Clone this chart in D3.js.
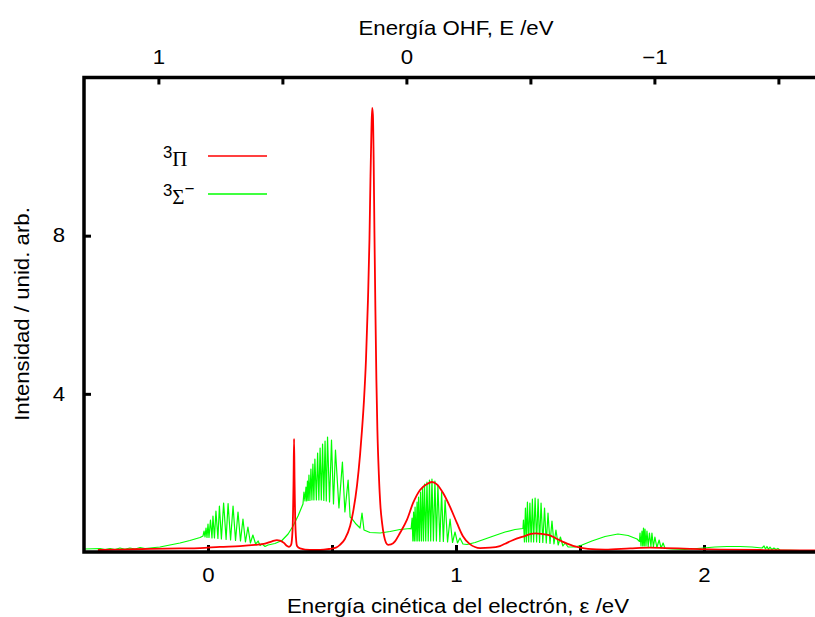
<!DOCTYPE html>
<html>
<head>
<meta charset="utf-8">
<script src="https://cdn.jsdelivr.net/npm/d3@7"></script>
<style>
  html, body { margin: 0; padding: 0; background: #fff; }
  svg { display: block; }
  text { font-family: "Liberation Sans", Arial, Helvetica, sans-serif; fill: #000; }
</style>
</head>
<body>
<svg id="chart" width="815" height="617"></svg>
<script>
// Photoelectron spectrum: intensity vs. electron kinetic energy for two states.
// Each series is a list of [epsilon (eV), intensity (arb. units)] samples.

const tripletPi = [
  [-0.444,0.05],[-0.355,0.06],[-0.234,0.08],[-0.113,0.09],[-0.032,0.10],[0.048,0.13],[0.129,0.15],
  [0.190,0.18],[0.230,0.21],[0.258,0.27],[0.278,0.30],[0.290,0.29],[0.306,0.23],[0.319,0.15],
  [0.327,0.13],[0.335,0.18],[0.341,0.56],[0.345,1.82],[0.347,2.86],[0.349,1.82],[0.353,0.56],
  [0.359,0.15],[0.371,0.09],[0.411,0.05],[0.452,0.05],[0.492,0.08],[0.516,0.11],[0.532,0.18],
  [0.552,0.33],[0.573,0.66],[0.585,1.01],[0.601,1.69],[0.613,2.45],[0.621,3.09],[0.629,3.84],
  [0.637,4.86],[0.645,6.37],[0.651,7.89],[0.655,9.41],[0.659,10.67],[0.662,11.23],[0.665,11.05],
  [0.668,9.91],[0.671,8.14],[0.675,6.12],[0.679,4.35],[0.683,3.09],[0.689,1.95],[0.695,1.19],
  [0.702,0.73],[0.710,0.40],[0.718,0.23],[0.726,0.18],[0.738,0.19],[0.754,0.27],[0.774,0.48],
  [0.802,0.81],[0.827,1.24],[0.855,1.57],[0.883,1.72],[0.903,1.77],[0.923,1.71],[0.948,1.49],
  [0.976,1.14],[1.004,0.73],[1.028,0.40],[1.056,0.20],[1.097,0.10],[1.137,0.11],[1.177,0.15],
  [1.198,0.21],[1.226,0.29],[1.266,0.38],[1.319,0.47],[1.371,0.43],[1.427,0.27],[1.480,0.14],
  [1.532,0.08],[1.601,0.06],[1.702,0.09],[1.782,0.11],[1.843,0.10],[1.944,0.08],[2.065,0.06],
  [2.226,0.05],[2.5,0.04]
];

const tripletSigma = [
  // low-energy tail
  [-0.496,0.076],[-0.435,0.089],[-0.415,0.063],[-0.395,0.089],[-0.375,0.063],[-0.355,0.101],
  [-0.335,0.070],[-0.315,0.101],[-0.294,0.076],[-0.274,0.114],[-0.254,0.089],[-0.194,0.126],
  [-0.113,0.228],[-0.073,0.291],[-0.032,0.367],[-0.020,0.405],
  // first vibrational band
  [-0.016,0.531],[-0.012,0.379],[-0.008,0.607],[-0.004,0.367],[0.000,0.708],[0.004,0.367],
  [0.010,0.809],[0.016,0.354],[0.020,0.910],[0.026,0.354],[0.032,1.037],[0.040,0.341],
  [0.046,1.163],[0.054,0.329],[0.063,1.239],[0.073,0.316],[0.081,1.227],[0.091,0.303],
  [0.101,1.163],[0.111,0.291],[0.121,1.012],[0.131,0.278],[0.141,0.835],[0.151,0.253],
  [0.161,0.632],[0.171,0.228],[0.181,0.430],[0.192,0.202],[0.202,0.278],[0.210,0.164],
  [0.218,0.202],[0.230,0.139],
  [0.242,0.177],[0.270,0.215],[0.298,0.291],[0.323,0.455],[0.343,0.658],[0.363,0.910],[0.383,1.214],
  // second band
  [0.387,1.517],[0.391,1.290],[0.395,1.644],[0.398,1.290],[0.401,1.796],[0.404,1.302],
  [0.407,1.947],[0.411,1.302],[0.415,2.099],[0.419,1.315],[0.423,2.226],[0.427,1.315],
  [0.431,2.352],[0.437,1.315],[0.442,2.504],[0.447,1.315],[0.452,2.630],[0.457,1.315],
  [0.462,2.731],[0.467,1.302],[0.472,2.807],[0.477,1.290],[0.482,2.908],[0.490,1.265],
  [0.498,2.833],[0.506,1.214],[0.514,2.580],[0.528,1.113],[0.542,2.276],[0.552,1.012],
  [0.565,1.821],[0.573,0.885],[0.581,0.835],[0.597,0.708],[0.613,0.607],[0.621,0.986],
  [0.629,0.556],[0.653,0.493],[0.694,0.481],[0.734,0.518],[0.774,0.569],[0.815,0.594],
  // third band
  [0.819,0.582],[0.823,0.860],[0.826,0.278],[0.829,1.012],[0.832,0.278],[0.835,1.138],
  [0.839,0.278],[0.843,1.265],[0.846,0.278],[0.849,1.391],[0.853,0.278],[0.857,1.517],
  [0.861,0.278],[0.865,1.619],[0.869,0.278],[0.873,1.720],[0.878,0.278],[0.883,1.770],
  [0.888,0.278],[0.893,1.821],[0.898,0.278],[0.903,1.846],[0.909,0.278],[0.915,1.796],
  [0.921,0.278],[0.927,1.694],[0.935,0.266],[0.942,1.517],[0.949,0.266],[0.956,1.315],
  [0.966,0.253],[0.976,0.835],[0.986,0.240],[0.996,0.506],[1.006,0.228],[1.016,0.354],
  [1.028,0.202],
  [1.044,0.190],[1.077,0.240],[1.117,0.329],[1.157,0.417],[1.198,0.506],[1.238,0.569],[1.270,0.594],
  // fourth band
  [1.272,0.809],[1.276,0.253],[1.280,1.113],[1.284,0.253],[1.288,1.265],[1.293,0.253],
  [1.298,1.239],[1.303,0.253],[1.308,1.340],[1.313,0.253],[1.319,1.366],[1.325,0.253],
  [1.331,1.340],[1.337,0.240],[1.343,1.239],[1.350,0.240],[1.357,1.113],[1.364,0.228],
  [1.371,0.986],[1.379,0.215],[1.387,0.784],[1.395,0.202],[1.403,0.556],[1.412,0.177],
  [1.421,0.379],[1.431,0.152],[1.440,0.228],[1.452,0.126],
  [1.480,0.126],[1.508,0.177],[1.548,0.278],[1.601,0.392],[1.653,0.455],[1.694,0.417],
  [1.730,0.329],[1.740,0.266],
  // fifth band
  [1.742,0.481],[1.746,0.152],[1.750,0.531],[1.753,0.152],[1.756,0.607],[1.759,0.152],
  [1.762,0.582],[1.766,0.152],[1.770,0.531],[1.775,0.139],[1.780,0.481],[1.786,0.139],
  [1.790,0.481],[1.796,0.126],[1.802,0.379],[1.810,0.114],[1.819,0.303],[1.827,0.101],
  [1.835,0.228],[1.843,0.089],
  [1.871,0.076],[1.923,0.063],[1.996,0.101],[2.044,0.126],[2.093,0.139],[2.145,0.139],
  [2.194,0.126],[2.234,0.101],
  // sixth band
  [2.242,0.152],[2.248,0.076],[2.254,0.139],[2.260,0.063],[2.266,0.126],[2.274,0.063],
  [2.282,0.101],[2.290,0.063],[2.298,0.089],[2.306,0.051],
  [2.387,0.038],[2.5,0.038]
];

const seriesNames  = ["Π", "Σ"];
const seriesColors = ["#ff0000", "#00ff00"];

const kineticTicks = [0, 0.5, 1, 1.5, 2];
const ohfTicks     = [1, 0.5, 0, -0.5, -1, -1.5];
const intensityTicks = [4, 8];
const ohfOffset = 0.8;   // E = 0.8 eV - epsilon

const xDomain = [-0.5, 2.5];
const yDomain = [0, 12];

// ---------------------------------------------------------------------------
const svg = d3.select("#chart");
const plot = { left: 84, right: 828, top: 77.5, bottom: 552 };
const textStretch = 1.14;
const fontSize = 19.5;

const x = d3.scaleLinear().domain(xDomain).range([plot.left, plot.right]);
const y = d3.scaleLinear().domain(yDomain).range([plot.bottom, plot.top]);
const x2 = d3.scaleLinear()
  .domain([ohfOffset - xDomain[0], ohfOffset - xDomain[1]])
  .range([plot.left, plot.right]);

const fmt = d => Number.isInteger(d) ? (d < 0 ? "\u2212" + Math.abs(d) : String(d)) : "";

function styleAxis(g) {
  g.select(".domain").remove();
  g.selectAll(".tick line").attr("stroke", "#000").attr("stroke-width", 3);
  g.selectAll(".tick text")
    .attr("font-size", fontSize)
    .attr("font-family", "Liberation Sans, Arial, sans-serif")
    .each(function () {
      const t = d3.select(this);
      const tx = +t.attr("x") || 0;
      t.attr("x", 0).attr("transform", `translate(${tx},0) scale(${textStretch},1)`);
    });
}

// bottom axis: kinetic energy
svg.append("g")
  .attr("transform", `translate(0,${plot.bottom})`)
  .call(d3.axisBottom(x).tickValues(kineticTicks).tickFormat(fmt)
    .tickSizeInner(-7).tickSizeOuter(0).tickPadding(16))
  .call(styleAxis);

// top axis: OHF energy
svg.append("g")
  .attr("transform", `translate(0,${plot.top})`)
  .call(d3.axisTop(x2).tickValues(ohfTicks).tickFormat(fmt)
    .tickSizeInner(-7).tickSizeOuter(0).tickPadding(14))
  .call(styleAxis);

// left axis: intensity
svg.append("g")
  .attr("transform", `translate(${plot.left},0)`)
  .call(d3.axisLeft(y).tickValues(intensityTicks).tickFormat(d3.format("d"))
    .tickSizeInner(-7).tickSizeOuter(0).tickPadding(19))
  .call(styleAxis);

// curves (Σ below, Π on top)
const line = d3.line().x(d => x(d[0])).y(d => y(d[1]));
svg.append("path").datum(tripletSigma)
  .attr("fill", "none").attr("stroke", seriesColors[1]).attr("stroke-width", 1.2)
  .attr("stroke-linejoin", "round").attr("d", line);
svg.append("path").datum(tripletPi)
  .attr("fill", "none").attr("stroke", seriesColors[0]).attr("stroke-width", 1.8)
  .attr("stroke-linejoin", "round").attr("d", line.curve(d3.curveMonotoneX));

// frame (left, top, bottom)
const frame = svg.append("g").attr("stroke", "#000").attr("stroke-width", 3.5).attr("fill", "none");
frame.append("path").attr("d",
  `M${plot.right},${plot.top}H${plot.left}V${plot.bottom}H${plot.right}V${plot.top}`)
  .attr("stroke-linejoin", "miter");

// axis titles
function stretchedText(tx, ty, rot, str, anchor) {
  return svg.append("text")
    .attr("transform", `translate(${tx},${ty}) rotate(${rot}) scale(${textStretch},1)`)
    .attr("text-anchor", anchor)
    .attr("font-size", fontSize)
    .text(str);
}
stretchedText(456, 35, 0, "Energía OHF, E /eV", "middle");
stretchedText(458, 613, 0, "Energía cinética del electrón, ε /eV", "middle");
stretchedText(29, 314, -90, "Intensidad / unid. arb.", "middle");

// legend
const legend = svg.append("g");
const legendRows = [156, 194];
seriesNames.forEach((name, i) => {
  const ly = legendRows[i];
  const t = legend.append("text")
    .attr("transform", `translate(163,${ly + 10}) scale(1.05,1)`);
  t.append("tspan").attr("font-size", 16).attr("dy", -8).text("3");
  t.append("tspan").attr("font-size", 20).attr("dy", 8)
    .attr("font-family", "Liberation Serif, Times New Roman, serif").text(name);
  if (i === 1) {
    t.append("tspan").attr("font-size", 16).attr("dy", -10).text("\u2212");
  }
  legend.append("line")
    .attr("x1", 208).attr("x2", 267).attr("y1", ly).attr("y2", ly)
    .attr("stroke", seriesColors[i]).attr("stroke-width", 1.5);
});
</script>
</body>
</html>
